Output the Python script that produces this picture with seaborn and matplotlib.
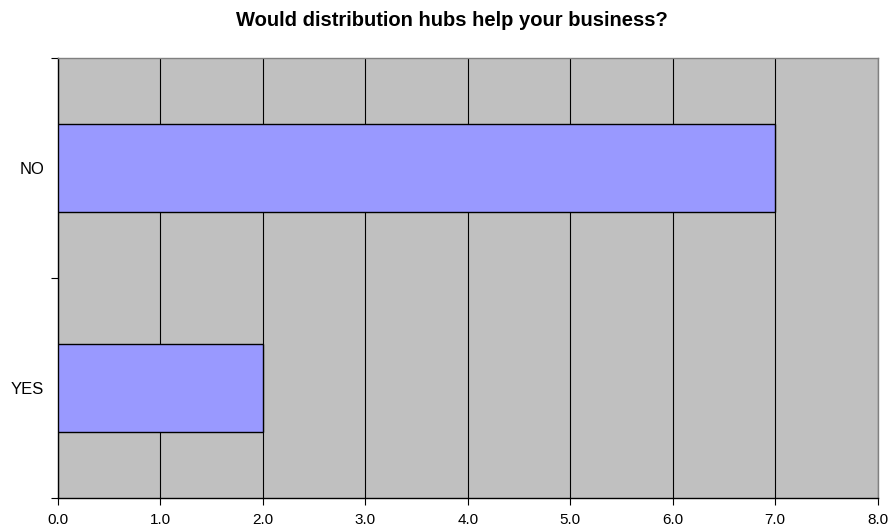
import matplotlib
matplotlib.use("Agg")
import matplotlib.pyplot as plt
import seaborn as sns
import pandas as pd
from matplotlib.ticker import FixedLocator

categories = ["NO", "YES"]
values = [7, 2]
x_ticks = [0, 1, 2, 3, 4, 5, 6, 7, 8]
x_tick_labels = ["0.0", "1.0", "2.0", "3.0", "4.0", "5.0", "6.0", "7.0", "8.0"]
title = "Would distribution hubs help your business?"

sns.set_theme(style="white")
plt.rcParams['font.family'] = ['Liberation Sans', 'DejaVu Sans']

df = pd.DataFrame({"answer": categories, "count": values})

fig = plt.figure(figsize=(8.88, 5.29), dpi=100)
ax = fig.add_axes([58 / 888, 1 - 497.7 / 529, (877.7 - 58) / 888, (497.7 - 57.7) / 529])
ax.set_facecolor("#C0C0C0")

sns.barplot(data=df, x="count", y="answer", orient="h", color="#9999FF",
            width=0.4, edgecolor="black", linewidth=1.0, saturation=1, ax=ax, zorder=3)

ax.set_xlim(0, 8)
ax.set_ylim(1.5, -0.5)
ax.set_xticks(x_ticks)
ax.set_xticklabels(x_tick_labels)
ax.xaxis.grid(True, color="black", linewidth=0.8, zorder=1)
ax.set_axisbelow(True)
ax.yaxis.grid(False)

ax.yaxis.set_minor_locator(FixedLocator([-0.5, 0.5, 1.5]))
ax.tick_params(axis="y", which="major", length=0, pad=10, labelsize=12, colors="black")
ax.tick_params(axis="y", which="minor", length=5, width=0.8, color="black", left=True)
ax.tick_params(axis="x", which="major", length=5, width=0.8, color="black", bottom=True,
               labelsize=11, pad=6, labelcolor="black")

ax.set_xlabel("")
ax.set_ylabel("")

for side in ["left", "bottom"]:
    ax.spines[side].set_color("black")
    ax.spines[side].set_linewidth(1.0)
for side in ["top", "right"]:
    ax.spines[side].set_color("#808080")
    ax.spines[side].set_linewidth(1.0)

fig.text(452 / 888, 1 - 20 / 529, title, ha="center", va="center",
         fontsize=14.5, fontweight="bold", color="black")

fig.savefig("out.png", dpi=100)
